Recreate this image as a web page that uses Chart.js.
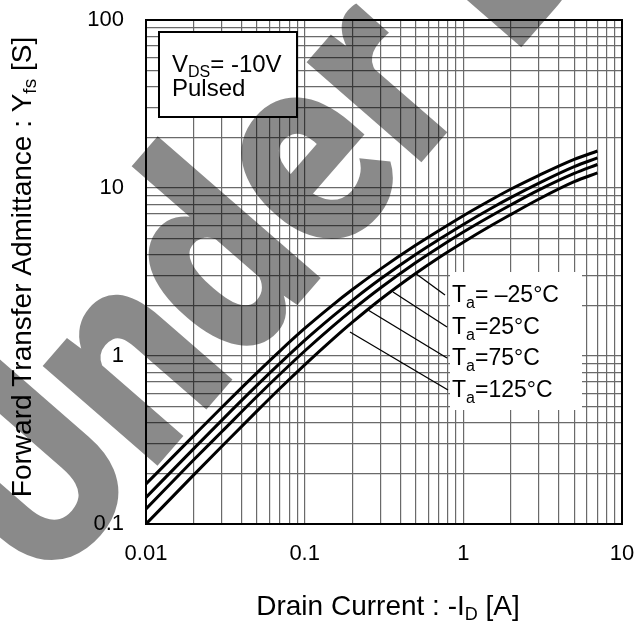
<!DOCTYPE html>
<html>
<head>
<meta charset="utf-8">
<script src="https://cdn.jsdelivr.net/npm/chart.js@4.4.0/dist/chart.umd.min.js"></script>
<style>
    html, body { margin: 0; padding: 0; background: #fff; }
</style>
</head>
<body>
<canvas id="yfs-chart" width="640" height="622"></canvas>
<script>
// Drain current -ID [A]
const currents = [0.01, 0.02, 0.03, 0.05, 0.07, 0.1, 0.15, 0.2, 0.3, 0.5, 0.7, 1, 1.5, 2, 3, 5, 7];
// Forward transfer admittance Yfs [S] for each temperature
const yfsM25 = [0.173, 0.336, 0.494, 0.794, 1.074, 1.459, 2.01, 2.486, 3.29, 4.56, 5.57, 6.84, 8.51, 9.86, 11.9, 14.8, 16.6];
const yfs25 = [0.144, 0.281, 0.414, 0.668, 0.906, 1.238, 1.721, 2.145, 2.87, 4.02, 4.93, 6.07, 7.58, 8.79, 10.7, 13.4, 15.1];
const yfs75 = [0.123, 0.241, 0.354, 0.574, 0.781, 1.071, 1.502, 1.883, 2.54, 3.59, 4.43, 5.47, 6.84, 7.95, 9.74, 12.2, 13.8];
const yfs125 = [0.100, 0.196, 0.289, 0.470, 0.643, 0.886, 1.256, 1.589, 2.17, 3.10, 3.85, 4.76, 5.98, 6.97, 8.6, 10.9, 12.3];

const tempLabels = ['\u2013' + '25', '25', '75', '125'];
const xDecades = [0.01, 0.1, 1, 10];
const yDecades = [0.1, 1, 10, 100];

const FONT = '"Liberation Sans", Arial, Helvetica, sans-serif';

// 1..9 x 10^n ticks between the decades, for the log grid
function logTicks(decades) {
    const ticks = [];
    for (let i = 0; i < decades.length - 1; i++) {
        for (let m = 1; m < 10; m++) {
            ticks.push({ value: decades[i] * m });
        }
    }
    ticks.push({ value: decades[decades.length - 1] });
    return ticks;
}

function isDecade(v, decades) {
    return decades.some(d => Math.abs(v / d - 1) < 1e-6);
}

// draws pieces of text [text, size, dy] one after another, returns the end x
function drawParts(ctx, parts, x, y) {
    parts.forEach(([t, size, dy]) => {
        ctx.font = size + 'px ' + FONT;
        ctx.fillText(t, x, y + dy);
        x += ctx.measureText(t).width;
    });
    return x;
}

function partsWidth(ctx, parts) {
    let w = 0;
    parts.forEach(([t, size]) => {
        ctx.font = size + 'px ' + FONT;
        w += ctx.measureText(t).width;
    });
    return w;
}

const annotations = {
    id: 'annotations',
    beforeDatasetsDraw(chart) {
        const { ctx, chartArea: a } = chart;
        ctx.save();
        // white patch behind the temperature labels
        ctx.fillStyle = '#fff';
        ctx.fillRect(a.left + 304, a.top + 252, 132, 138);
        // condition box
        ctx.fillRect(a.left + 13, a.top + 12, 138, 85);
        ctx.strokeStyle = '#000';
        ctx.lineWidth = 2;
        ctx.strokeRect(a.left + 13, a.top + 12, 138, 85);
        ctx.restore();
    },
    afterDatasetsDraw(chart) {
        const { ctx, chartArea: a } = chart;
        ctx.save();
        ctx.fillStyle = '#000';
        ctx.textBaseline = 'alphabetic';
        ctx.textAlign = 'left';
        // condition text
        drawParts(ctx, [['V', 24, 0], ['DS', 16, 5], ['= -10V', 24, 0]], a.left + 26, a.top + 52);
        drawParts(ctx, [['Pulsed', 24, 0]], a.left + 26, a.top + 76);

        // leader lines and labels
        const leaders = [
            [269, 253, 299, 275],
            [247, 272, 301, 307],
            [222, 290, 301, 338],
            [204, 312, 302, 370]
        ];
        ctx.strokeStyle = '#000';
        ctx.lineWidth = 1.3;
        leaders.forEach(([x1, y1, x2, y2], i) => {
            ctx.beginPath();
            ctx.moveTo(a.left + x1, a.top + y1);
            ctx.lineTo(a.left + x2, a.top + y2);
            ctx.stroke();
            const base = a.top + 282 + i * 31.7;
            const eq = i === 0 ? '= ' : '=';
            drawParts(ctx, [['T', 23, 0], ['a', 16, 6], [eq + tempLabels[i] + '\u00B0C', 23, 0]], a.left + 306, base);
        });

        // frame
        ctx.lineWidth = 2;
        ctx.strokeRect(a.left, a.top, a.right - a.left, a.bottom - a.top);
        ctx.restore();
    },
    afterDraw(chart) {
        const { ctx } = chart;
        ctx.save();
        ctx.fillStyle = '#000';
        ctx.textBaseline = 'alphabetic';
        // x axis title
        const xParts = [['Drain Current : -I', 28, 0], ['D', 18, 5], [' [A]', 28, 0]];
        const xw = partsWidth(ctx, xParts);
        drawParts(ctx, xParts, 388 - xw / 2, 615);
        // y axis title
        const yParts = [['Forward Transfer Admittance : Y', 28, 0], ['fs', 19, 5], [' [S]', 28, 0]];
        const yw = partsWidth(ctx, yParts);
        ctx.translate(31, 267);
        ctx.rotate(-Math.PI / 2);
        drawParts(ctx, yParts, -yw / 2, 0);
        ctx.restore();

        // watermark
        ctx.save();
        ctx.fillStyle = 'rgba(0,0,0,0.46)';
        ctx.font = '900 240px Roboto, "DejaVu Sans", sans-serif';
        ctx.translate(46, 594);
        ctx.rotate(-49 * Math.PI / 180);
        ctx.scale(1, 1.2);
        ctx.fillText('Under Development', 0, 0);
        ctx.restore();
    }
};

const ctx = document.getElementById('yfs-chart').getContext('2d');

const seriesList = [yfsM25, yfs25, yfs75, yfs125];

const chart = new Chart(ctx, {
    type: 'line',
    data: {
        datasets: seriesList.map((vals, i) => ({
            label: 'Ta=' + tempLabels[i] + '\u00B0C',
            data: currents.map((c, j) => ({ x: c, y: vals[j] })),
            borderColor: '#000',
            borderWidth: 3,
            pointRadius: 0,
            cubicInterpolationMode: 'monotone',
            fill: false
        }))
    },
    options: {
        responsive: false,
        animation: false,
        layout: { padding: { top: 20, right: 18, left: 0, bottom: 0 } },
        scales: {
            x: {
                type: 'logarithmic',
                min: 0.01,
                max: 10,
                afterBuildTicks: s => { s.ticks = logTicks(xDecades); },
                afterFit: s => { s.height = 98; s.paddingLeft = 0; s.paddingRight = 0; },
                ticks: {
                    autoSkip: false,
                    maxRotation: 0,
                    padding: 17,
                    color: '#000',
                    font: { family: FONT, size: 22 },
                    callback: v => isDecade(v, xDecades) ? String(v) : ''
                },
                grid: { color: '#6a6a6a', lineWidth: 1.2, drawTicks: false },
                border: { display: false }
            },
            y: {
                type: 'logarithmic',
                min: 0.1,
                max: 100,
                afterBuildTicks: s => { s.ticks = logTicks(yDecades); },
                afterFit: s => { s.width = 146; s.paddingTop = 0; s.paddingBottom = 0; },
                ticks: {
                    autoSkip: false,
                    padding: 22,
                    color: '#000',
                    font: { family: FONT, size: 22 },
                    callback: v => isDecade(v, yDecades) ? String(v) : ''
                },
                grid: { color: '#6a6a6a', lineWidth: 1.2, drawTicks: false },
                border: { display: false }
            }
        },
        plugins: {
            legend: { display: false },
            tooltip: { enabled: false }
        }
    },
    plugins: [annotations]
});
</script>
</body>
</html>
